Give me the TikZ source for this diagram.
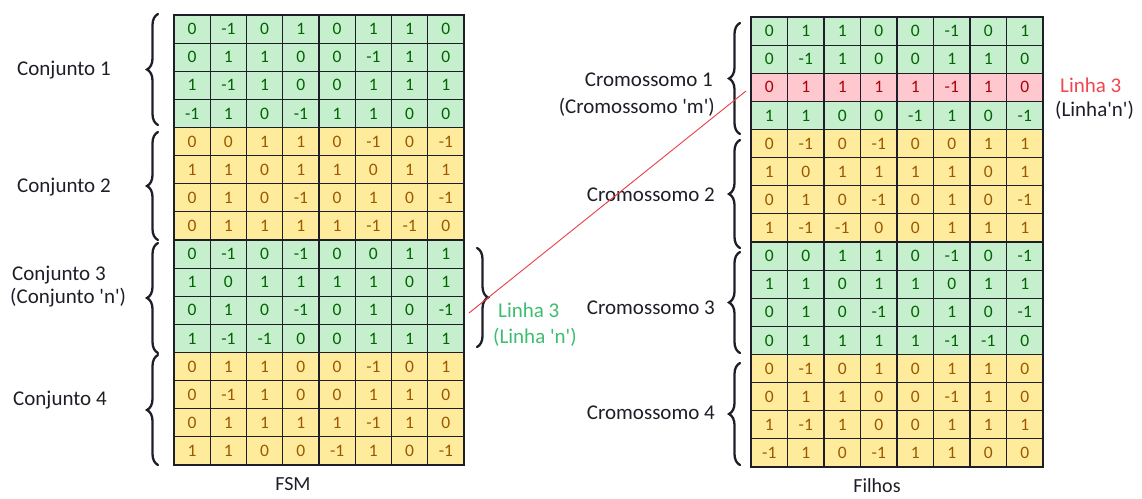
\documentclass[tikz,border=0pt]{standalone}
\usepackage{fontspec}
\setmainfont{Carlito}
\usetikzlibrary{decorations.pathreplacing}

\definecolor{gfill}{RGB}{198,239,206}
\definecolor{gtext}{RGB}{0,100,0}
\definecolor{yfill}{RGB}{255,235,156}
\definecolor{ytext}{RGB}{156,87,0}
\definecolor{rfill}{RGB}{255,199,206}
\definecolor{rtext}{RGB}{170,0,10}
\definecolor{ink}{RGB}{30,30,40}
\definecolor{linhagreen}{RGB}{60,190,110}
\definecolor{linhared}{RGB}{240,70,80}
\definecolor{crossred}{RGB}{235,60,70}

\tikzset{
  cellbase/.style={draw=ink, line width=1.1pt, inner sep=0pt,
    minimum width=36.25pt, minimum height=28.125pt,
    font=\fontsize{17.5}{17.5}\selectfont},
  gcell/.style={cellbase, fill=gfill, text=gtext},
  ycell/.style={cellbase, fill=yfill, text=ytext},
  rcell/.style={cellbase, fill=rfill, text=rtext},
  rcellbase/.style={minimum width=36.5pt},
  label/.style={text=ink, inner sep=0pt, font=\fontsize{21}{21}\selectfont},
  caption/.style={text=ink, inner sep=0pt, font=\fontsize{20}{20}\selectfont},
  curly/.style={decorate, decoration={brace, amplitude=11pt},
    line width=2.3pt, draw=ink, line cap=round},
}

\begin{document}
\begin{tikzpicture}[x=1pt, y=-1pt]
\useasboundingbox (0,0) rectangle (1142,498);

% FSM table: groups of four rows, alternating green / yellow
\foreach \row [count=\r] in {
  {0,-1,0,1,0,1,1,0},{0,1,1,0,0,-1,1,0},{1,-1,1,0,0,1,1,1},{-1,1,0,-1,1,1,0,0},
  {0,0,1,1,0,-1,0,-1},{1,1,0,1,1,0,1,1},{0,1,0,-1,0,1,0,-1},{0,1,1,1,1,-1,-1,0},
  {0,-1,0,-1,0,0,1,1},{1,0,1,1,1,1,0,1},{0,1,0,-1,0,1,0,-1},{1,-1,-1,0,0,1,1,1},
  {0,1,1,0,0,-1,0,1},{0,-1,1,0,0,1,1,0},{0,1,1,1,1,-1,1,0},{1,1,0,0,-1,1,0,-1}}{
  \pgfmathtruncatemacro\g{mod(int((\r-1)/4),2)}
  \ifnum\g=0 \def\cs{gcell}\else\def\cs{ycell}\fi
  \foreach \v [count=\c] in \row {
    \node[\cs] (L-\r-\c) at ({174+36.25*(\c-0.5)},{15+28.125*(\r-0.5)}) {\v};
  }
}

% Filhos table: same colouring, third row highlighted in red
\foreach \row [count=\r] in {
  {0,1,1,0,0,-1,0,1},{0,-1,1,0,0,1,1,0},{0,1,1,1,1,-1,1,0},{1,1,0,0,-1,1,0,-1},
  {0,-1,0,-1,0,0,1,1},{1,0,1,1,1,1,0,1},{0,1,0,-1,0,1,0,-1},{1,-1,-1,0,0,1,1,1},
  {0,0,1,1,0,-1,0,-1},{1,1,0,1,1,0,1,1},{0,1,0,-1,0,1,0,-1},{0,1,1,1,1,-1,-1,0},
  {0,-1,0,1,0,1,1,0},{0,1,1,0,0,-1,1,0},{1,-1,1,0,0,1,1,1},{-1,1,0,-1,1,1,0,0}}{
  \pgfmathtruncatemacro\g{mod(int((\r-1)/4),2)}
  \ifnum\g=0 \def\cs{gcell}\else\def\cs{ycell}\fi
  \ifnum\r=3 \def\cs{rcell}\fi
  \foreach \v [count=\c] in \row {
    \node[\cs, rcellbase] (R-\r-\c) at ({751+36.5*(\c-0.5)},{17+28.125*(\r-0.5)}) {\v};
  }
}

% braces for the FSM groups
\draw[curly] (158,125) -- (158,14);
\draw[curly] (158,240) -- (158,132);
\draw[curly] (158,353) -- (158,243);
\draw[curly] (158,465) -- (158,355);

% braces for the Filhos groups
\draw[curly] (740,134) -- (740,23);
\draw[curly] (740,248) -- (740,140);
\draw[curly] (740,353) -- (740,252);
\draw[curly] (740,465) -- (740,363);

% brace marking the selected line
\draw[curly] (477,248) -- (477,347);

% group labels, left
\node[label, anchor=west] (c1) at (17,70) {Conjunto 1};
\node[label, anchor=west] (c2) at (17,187) {Conjunto 2};
\node[label, anchor=west] (c3) at (12,275) {Conjunto 3};
\node[label, anchor=west] (c3n) at (10,298) {(Conjunto \textquotesingle n\textquotesingle)};
\node[label, anchor=west] (c4) at (13,400) {Conjunto 4};

% group labels, right
\node[label, anchor=east] (k1) at (713,80) {Cromossomo 1};
\node[label, anchor=east] (k1m) at (715,107) {(Cromossomo \textquotesingle m\textquotesingle)};
\node[label, anchor=east] (k2) at (715,195) {Cromossomo 2};
\node[label, anchor=east] (k3) at (715,308) {Cromossomo 3};
\node[label, anchor=east] (k4) at (715,413) {Cromossomo 4};

% line labels
\node[label, anchor=west, text=linhagreen] (l3) at (498,310) {Linha 3};
\node[label, anchor=west, text=linhagreen] (l3n) at (493,337) {(Linha \textquotesingle n\textquotesingle)};
\node[label, anchor=west, text=linhared] (r3) at (1060,85) {Linha 3};
\node[label, anchor=west] (r3n) at (1055,110) {(Linha\textquotesingle n\textquotesingle)};

% table captions
\node[caption] (fsm) at (293,484) {FSM};
\node[caption] (filhos) at (877,486) {Filhos};

% crossing line from the selected FSM row to the child row
\coordinate (crossA) at (469,313);
\coordinate (crossB) at (746,91);
\draw[crossred, line width=0.9pt] (crossA) -- (crossB);
\end{tikzpicture}
\end{document}
